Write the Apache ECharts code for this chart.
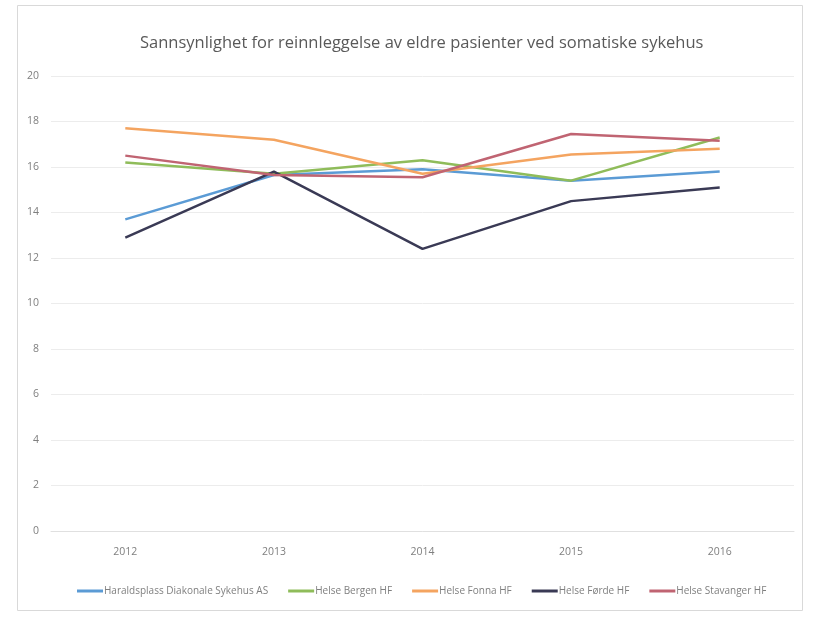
<!DOCTYPE html>
<html>
<head>
<meta charset="utf-8">
<script src="https://cdn.jsdelivr.net/npm/echarts@6/dist/echarts.min.js"></script>
<style>
  html, body { margin: 0; padding: 0; background: #fff; }
  #chart { width: 814px; height: 617px; }
</style>
</head>
<body>
<div id="chart"></div>
<script>
const years = ['2012', '2013', '2014', '2015', '2016'];
const haraldsplass = [13.7, 15.65, 15.9, 15.4, 15.8];
const bergen = [16.2, 15.7, 16.3, 15.4, 17.3];
const fonna = [17.7, 17.2, 15.7, 16.55, 16.8];
const forde = [12.9, 15.8, 12.4, 14.5, 15.1];
const stavanger = [16.5, 15.65, 15.55, 17.45, 17.15];

const FONT = '"Open Sans", "Noto Sans", sans-serif';

const chart = echarts.init(document.getElementById('chart'), null, { renderer: 'canvas' });

function line(name, data, color) {
  return {
    name, type: 'line', data,
    symbol: 'none', smooth: false,
    lineStyle: { width: 2.5, color },
    itemStyle: { color },
  };
}

chart.setOption({
  animation: false,
  color: ['#5B9BD5', '#8FBC5A', '#F4A460', '#3A3A55', '#C06472'],
  title: {
    text: 'Sannsynlighet for reinnleggelse av eldre pasienter ved somatiske sykehus',
    left: 135, top: 30,
    textStyle: { color: '#595959', fontSize: 16.5, fontWeight: 'normal', fontFamily: FONT },
  },
  graphic: [{
    type: 'rect', shape: { x: 17.5, y: 5.5, width: 785, height: 605 },
    style: { fill: 'none', stroke: '#d9d9d9', lineWidth: 1 }, silent: true, z: -1,
  }],
  grid: { left: 51, right: 20, top: 76, bottom: 86 },
  xAxis: {
    type: 'category', data: years, boundaryGap: true,
    axisLine: { lineStyle: { color: '#e0e0e0' } },
    axisTick: { show: false },
    axisLabel: { color: '#7f7f7f', fontSize: 10.5, fontFamily: FONT, margin: 16 },
  },
  yAxis: {
    type: 'value', min: 0, max: 20, interval: 2,
    axisLine: { show: false }, axisTick: { show: false },
    splitLine: { lineStyle: { color: '#ececec' } },
    axisLabel: { color: '#7f7f7f', fontSize: 10.5, fontFamily: FONT, margin: 12 },
  },
  legend: {
    bottom: 16, left: 72, itemGap: 20,
    itemWidth: 26, itemHeight: 3, icon: 'rect',
    textStyle: { color: '#7f7f7f', fontSize: 10, fontFamily: FONT, padding: [0, 0, 0, -4] },
  },
  series: [
    line('Haraldsplass Diakonale Sykehus AS', haraldsplass, '#5B9BD5'),
    line('Helse Bergen HF', bergen, '#8FBC5A'),
    line('Helse Fonna HF', fonna, '#F4A460'),
    line('Helse Førde HF', forde, '#3A3A55'),
    line('Helse Stavanger HF', stavanger, '#C06472'),
  ],
});
</script>
</body>
</html>
